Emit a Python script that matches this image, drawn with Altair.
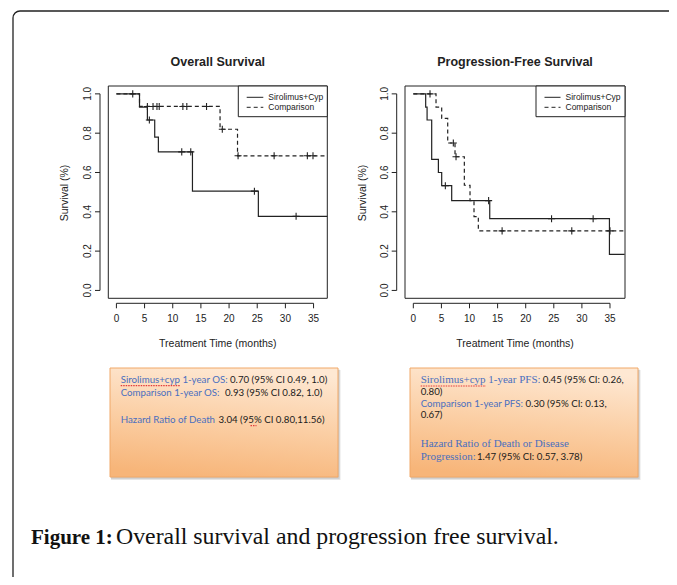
import altair as alt
import pandas as pd

W, H = 661, 569
M = 8  # page margin: chart coordinate = page coordinate - 8

# ---------------- data ----------------
series_names = ["Sirolimus+Cyp", "Comparison"]
x_ticks = [0, 5, 10, 15, 20, 25, 30, 35]
y_ticks = [0.0, 0.2, 0.4, 0.6, 0.8, 1.0]

# Overall survival
os_sir_time = [0, 4.1, 5.5, 6.8, 7.45, 13.5, 25.2, 37.44]
os_sir_surv = [1.0, 0.933, 0.867, 0.78, 0.705, 0.505, 0.377, 0.377]
os_sir_cens_time = [2.9, 5.85, 11.6, 13.2, 24.5, 31.9]
os_sir_cens_surv = [1.0, 0.867, 0.705, 0.705, 0.505, 0.377]
os_cmp_time = [0, 4.1, 18.4, 21.5, 37.44]
os_cmp_surv = [1.0, 0.936, 0.82, 0.685, 0.685]
os_cmp_cens_time = [5.5, 6.5, 7.2, 7.6, 11.8, 12.5, 16.0, 18.8, 21.6, 28.0, 33.9, 34.9]
os_cmp_cens_surv = [0.936, 0.936, 0.936, 0.936, 0.936, 0.936, 0.936, 0.82, 0.685, 0.685, 0.685, 0.685]

# Progression-free survival
pfs_sir_time = [0, 2.2, 2.45, 3.27, 4.46, 5.05, 6.83, 13.6, 34.9, 37.6]
pfs_sir_surv = [1.0, 0.933, 0.867, 0.667, 0.60, 0.533, 0.457, 0.365, 0.183, 0.183]
pfs_sir_cens_time = [5.7, 13.4, 24.6, 32.0]
pfs_sir_cens_surv = [0.533, 0.457, 0.365, 0.365]
pfs_cmp_time = [0, 4.04, 5.05, 6.12, 7.42, 9.08, 10.09, 10.8, 11.57, 37.6]
pfs_cmp_surv = [1.0, 0.933, 0.875, 0.75, 0.68, 0.535, 0.457, 0.376, 0.303, 0.303]
pfs_cmp_cens_time = [2.97, 7.12, 7.6, 15.8, 28.2, 35.0]
pfs_cmp_cens_surv = [1.0, 0.75, 0.68, 0.303, 0.303, 0.303]

panel_titles = ["Overall Survival", "Progression-Free Survival"]
x_title = "Treatment Time (months)"
y_title = "Survival (%)"

box_blue_sans_text = ["Sirolimus+cyp 1-year OS:", "Comparison 1-year OS:",
                      "Hazard Ratio of Death", "Comparison 1-year PFS:"]
box_blue_serif_text = ["Sirolimus+cyp 1-year PFS:", "Hazard Ratio of Death or Disease",
                       "Progression:"]
box_black_text = ["0.70 (95% CI 0.49, 1.0)", "0.93 (95% CI 0.82, 1.0)",
                  "3.04 (95% CI 0.80,11.56)", "0.45 (95% CI: 0.26,", "0.80)",
                  "0.30 (95% CI: 0.13,", "0.67)", "1.47 (95% CI: 0.57, 3.78)"]
caption_bold = "Figure 1:"
caption_rest = "Overall survival and progression free survival."

# ---------------- styling / layout ----------------
INK = "#222222"
SANS = "Liberation Sans"
BOX_SANS = "Lato"
BOX_SERIF = "Liberation Serif"
BLUE = "#4a6fbf"


def P(v):
    return v - M


Y_DOM = [-0.04, 1.04]
Y_RNG = [P(298.3), P(86.0)]
AXIS_Y = 303.3  # page y of the x-axis line


def km_panel(sir_t, sir_s, sir_ct, sir_cs, cmp_t, cmp_s, cmp_ct, cmp_cs,
             x_dom, box_l, box_r, yaxis_px):
    xs = alt.Scale(domain=x_dom, range=[P(box_l), P(box_r)], nice=False, zero=False)
    ys = alt.Scale(domain=Y_DOM, range=Y_RNG, nice=False, zero=False)

    def X(f):
        return alt.X(f, scale=xs, axis=None)

    def Y(f):
        return alt.Y(f, scale=ys, axis=None)

    curves = pd.DataFrame({
        "t": sir_t + cmp_t,
        "s": sir_s + cmp_s,
        "g": [series_names[0]] * len(sir_t) + [series_names[1]] * len(cmp_t),
    })
    cens = pd.DataFrame({"t": sir_ct + cmp_ct, "s": sir_cs + cmp_cs})
    frame_df = pd.DataFrame({"x0": [x_dom[0]], "x1": [x_dom[1]],
                             "y0": [Y_DOM[0]], "y1": [Y_DOM[1]]})
    xline = pd.DataFrame({"a": [x_ticks[0]], "b": [x_ticks[-1]]})
    yline = pd.DataFrame({"a": [y_ticks[0]], "b": [y_ticks[-1]]})
    xt = pd.DataFrame({"t": x_ticks})
    yt = pd.DataFrame({"s": y_ticks})

    frame = alt.Chart(frame_df).mark_rect(fillOpacity=0, stroke=INK, strokeWidth=1).encode(
        x=X("x0:Q"), x2="x1:Q", y=Y("y0:Q"), y2="y1:Q")
    # R-style axes: line from first to last tick, outward ticks, labels
    xl = alt.Chart(xline).mark_rule(color=INK, strokeWidth=1).encode(
        x=X("a:Q"), x2="b:Q", y=alt.value(P(AXIS_Y)))
    xtick = alt.Chart(xt).mark_rule(color=INK, strokeWidth=1).encode(
        x=X("t:Q"), y=alt.value(P(AXIS_Y)), y2=alt.value(P(AXIS_Y + 5)))
    xlab = alt.Chart(xt).mark_text(font=SANS, fontSize=10, color=INK, align="center",
                                   baseline="middle").encode(
        x=X("t:Q"), y=alt.value(P(318.6)), text=alt.Text("t:Q", format="d"))
    yl = alt.Chart(yline).mark_rule(color=INK, strokeWidth=1).encode(
        y=Y("a:Q"), y2="b:Q", x=alt.value(P(yaxis_px)))
    ytick = alt.Chart(yt).mark_rule(color=INK, strokeWidth=1).encode(
        y=Y("s:Q"), x=alt.value(P(yaxis_px)), x2=alt.value(P(yaxis_px - 5)))
    ylab = alt.Chart(yt).mark_text(font=SANS, fontSize=10, color=INK, align="center",
                                   baseline="middle", angle=270).encode(
        y=Y("s:Q"), x=alt.value(P(yaxis_px - 11.7)), text=alt.Text("s:Q", format=".1f"))

    line = alt.Chart(curves).mark_line(interpolate="step-after", strokeWidth=1.2,
                                       color=INK).encode(
        x=X("t:Q"), y=Y("s:Q"),
        strokeDash=alt.StrokeDash("g:N", scale=alt.Scale(domain=series_names,
                                                         range=[[1, 0], [4, 3]]),
                                  legend=None))
    marks = alt.Chart(cens).mark_point(shape="M-1,0L1,0M0,-1L0,1", size=50, filled=False,
                                       strokeWidth=1.1, color=INK, opacity=1).encode(
        x=X("t:Q"), y=Y("s:Q"))
    return alt.layer(frame, xl, xtick, xlab, yl, ytick, ylab, line, marks)


os_panel = km_panel(os_sir_time, os_sir_surv, os_sir_cens_time, os_sir_cens_surv,
                    os_cmp_time, os_cmp_surv, os_cmp_cens_time, os_cmp_cens_surv,
                    [-1.44, 37.44], 108.3, 327.3, 100.0)
pfs_panel = km_panel(pfs_sir_time, pfs_sir_surv, pfs_sir_cens_time, pfs_sir_cens_surv,
                     pfs_cmp_time, pfs_cmp_surv, pfs_cmp_cens_time, pfs_cmp_cens_surv,
                     [-1.48, 37.67], 405.0, 625.0, 396.7)


def px_df(**cols):
    return pd.DataFrame({k: [P(v) if isinstance(v, (int, float)) else v for v in vals]
                         for k, vals in cols.items()})


def rect_layer(df, **mark):
    return alt.Chart(df).mark_rect(**mark).encode(
        x=alt.X("x0:Q", scale=None, axis=None), x2="x1:Q",
        y=alt.Y("y0:Q", scale=None, axis=None), y2="y1:Q")


def rule_layer(df, **mark):
    return alt.Chart(df).mark_rule(**mark).encode(
        x=alt.X("x0:Q", scale=None, axis=None), x2="x1:Q",
        y=alt.Y("y:Q", scale=None, axis=None))


def text_layer(df, **mark):
    return alt.Chart(df).mark_text(**mark).encode(
        x=alt.X("x:Q", scale=None, axis=None),
        y=alt.Y("y:Q", scale=None, axis=None),
        text="txt:N")


# outer rounded frame (runs off the right/bottom edges)
outer = rect_layer(px_df(x0=[13], x1=[700], y0=[11], y1=[600]),
                   fillOpacity=0, stroke=INK, strokeWidth=1.3, cornerRadius=7)

# orange info boxes with soft shadow
shadow1 = rect_layer(px_df(x0=[111, 411], x1=[340.5, 640.5], y0=[370, 370], y1=[480, 480]),
                     fill="#9a9a9a", opacity=0.25)
shadow2 = rect_layer(px_df(x0=[111, 411], x1=[339.5, 639.5], y0=[369.5, 369.5],
                           y1=[478.8, 478.8]),
                     fill="#8a8a8a", opacity=0.3)
boxes = rect_layer(px_df(x0=[110, 410], x1=[338, 638], y0=[368, 368], y1=[477, 477]),
                   fill=alt.Gradient(gradient="linear",
                                     stops=[alt.GradientStop(color="#fee8d3", offset=0),
                                            alt.GradientStop(color="#fbcfa5", offset=0.5),
                                            alt.GradientStop(color="#f7b579", offset=1)],
                                     x1=0.6, y1=0, x2=0.4, y2=1),
                   stroke="#f0a868", strokeWidth=1)

# legends
leg_boxes = rect_layer(px_df(x0=[238.3, 536.0], x1=[327.3, 625.0], y0=[86, 86],
                             y1=[116.7, 116.7]),
                       fill="white", stroke=INK, strokeWidth=1)
leg_solid = rule_layer(px_df(x0=[246.7, 544.5], x1=[263.3, 560.5], y=[97.3, 97.3]),
                       color=INK, strokeWidth=1)
leg_dash = rule_layer(px_df(x0=[246.7, 544.5], x1=[263.3, 560.5], y=[107.3, 107.3]),
                      color=INK, strokeWidth=1, strokeDash=[4, 3])
leg_text = text_layer(px_df(txt=[series_names[0], series_names[1],
                                 series_names[0], series_names[1]],
                            x=[268.3, 268.3, 565.5, 565.5],
                            y=[97.3, 107.3, 97.3, 107.3]),
                      font=SANS, fontSize=8.5, color=INK, align="left", baseline="middle")

titles = text_layer(px_df(txt=panel_titles, x=[217.8, 515.0], y=[61.7, 61.7]),
                    font=SANS, fontSize=12.5, fontWeight="bold", color=INK,
                    align="center", baseline="middle")
x_titles = text_layer(px_df(txt=[x_title, x_title], x=[217.8, 515.0], y=[344, 344]),
                      font=SANS, fontSize=10.5, color=INK, align="center",
                      baseline="middle")
y_titles = text_layer(px_df(txt=[y_title, y_title], x=[65.0, 362.7], y=[193, 193]),
                      font=SANS, fontSize=10.5, color=INK, align="center",
                      baseline="middle", angle=270)

# info-box texts
blue_sans = text_layer(px_df(txt=box_blue_sans_text,
                             x=[120.7, 120.7, 120.7, 420.7],
                             y=[383.3, 396.0, 423.3, 406.7]),
                       font=BOX_SANS, fontSize=9.7, color=BLUE, align="left",
                       baseline="alphabetic")
blue_serif = text_layer(px_df(txt=box_blue_serif_text,
                              x=[420.7, 420.7, 420.7],
                              y=[383.3, 447.3, 460.0]),
                        font=BOX_SERIF, fontSize=11, color=BLUE, align="left",
                        baseline="alphabetic")
black_sans = text_layer(px_df(txt=box_black_text,
                              x=[230.0, 225.0, 218.5, 542.7, 420.7, 525.5, 420.7, 477.0],
                              y=[383.3, 396.0, 423.3, 383.3, 395.0, 406.7, 418.3, 460.0]),
                        font=BOX_SANS, fontSize=9.7, color="#1a1a1a", align="left",
                        baseline="alphabetic")
squiggles = rule_layer(px_df(x0=[120.7, 250.5, 420.7], x1=[180.0, 256.5, 486.0],
                             y=[385.6, 425.6, 386.0]),
                       color="#e23b3b", strokeWidth=1.2, strokeDash=[1.5, 1])

cap_bold = text_layer(px_df(txt=[caption_bold], x=[31], y=[544]),
                      font=BOX_SERIF, fontSize=21, fontWeight="bold", color="#111111",
                      align="left", baseline="alphabetic")
cap_rest = text_layer(px_df(txt=[caption_rest], x=[116], y=[544]),
                      font=BOX_SERIF, fontSize=23.8, color="#111111",
                      align="left", baseline="alphabetic")

chart = alt.layer(
    outer, shadow1, shadow2, boxes,
    os_panel, pfs_panel,
    leg_boxes, leg_solid, leg_dash, leg_text, titles, x_titles, y_titles,
    blue_sans, blue_serif, black_sans, squiggles, cap_bold, cap_rest,
).resolve_scale(
    x="independent", y="independent"
).properties(
    width=W, height=H, padding=0, autosize=alt.AutoSizeParams(type="none"),
    background="white"
).configure_view(strokeWidth=0)

chart.save("out.html", embed_options={"renderer": "svg", "actions": False})
